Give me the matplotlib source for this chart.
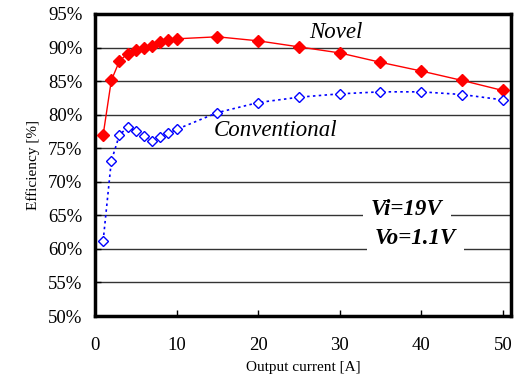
import matplotlib.pyplot as plt

plt.rcParams['font.family'] = ['Liberation Serif', 'DejaVu Serif']

current = [1, 2, 3, 4, 5, 6, 7, 8, 9, 10, 15, 20, 25, 30, 35, 40, 45, 50]
novel = [77.0, 85.1, 88.0, 89.1, 89.7, 90.0, 90.3, 90.8, 91.1, 91.3,
         91.6, 91.0, 90.1, 89.2, 87.8, 86.5, 85.1, 83.6]
conventional = [61.2, 73.1, 77.0, 78.1, 77.6, 76.8, 76.1, 76.6, 77.2, 77.8,
                80.3, 81.8, 82.6, 83.1, 83.4, 83.4, 83.0, 82.2]
y_ticks = [50, 55, 60, 65, 70, 75, 80, 85, 90, 95]
x_ticks = [0, 10, 20, 30, 40, 50]

fig = plt.figure(figsize=(5.18, 3.81), dpi=100)
ax = fig.add_axes([0.1834, 0.1706, 0.8031, 0.7927])

for v in y_ticks[1:-1]:
    ax.axhline(v, color='#333333', lw=1.0, zorder=1)

ax.plot(current, novel, color='red', lw=1.0, marker='D', ms=6,
        mfc='red', mec='red', zorder=3)
ax.plot(current, conventional, color='blue', lw=1.2, ls=(0, (1.5, 2)),
        marker='D', ms=5.5, mfc='white', mec='blue', mew=1.0, zorder=3)

ax.text(29.5, 92.3, 'Novel', fontsize=16.5, style='italic', ha='center', va='center', zorder=4)
ax.text(22.1, 77.7, 'Conventional', fontsize=16.5, style='italic', ha='center', va='center', zorder=4)
ax.text(38.2, 65.8, 'Vi=19V', fontsize=16.5, style='italic', weight='bold', ha='center', va='center',
        zorder=4, bbox=dict(facecolor='white', edgecolor='none', pad=6))
ax.text(39.3, 61.6, 'Vo=1.1V', fontsize=16.5, style='italic', weight='bold', ha='center', va='center',
        zorder=4, bbox=dict(facecolor='white', edgecolor='none', pad=6))

ax.set_xlim(0, 51)
ax.set_ylim(50, 95)
ax.set_xticks(x_ticks)
ax.set_yticks(y_ticks)
ax.set_yticklabels([f'{v}%' for v in y_ticks])
ax.tick_params(axis='both', direction='in', length=4, width=1, labelsize=13.5)
ax.tick_params(axis='x', pad=15)
ax.tick_params(axis='y', pad=9)
for s in ax.spines.values():
    s.set_linewidth(2.5)

ax.set_xlabel('Output current [A]', fontsize=11, labelpad=5)
ax.set_ylabel('Efficiency [%]', fontsize=11, labelpad=6)

fig.savefig('out.png', dpi=100)
